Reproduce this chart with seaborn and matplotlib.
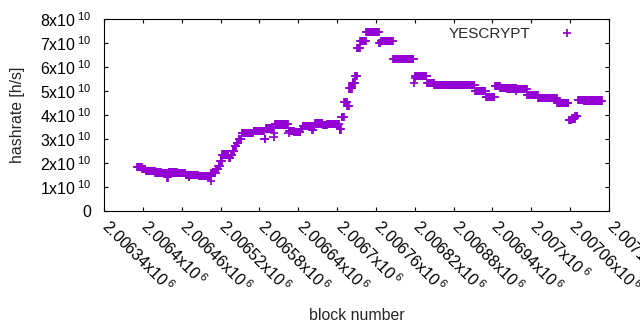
import numpy as np
import pandas as pd
import matplotlib
matplotlib.use("Agg")
import matplotlib.pyplot as plt
import seaborn as sns
from matplotlib.ticker import FixedLocator, FuncFormatter
from matplotlib.transforms import ScaledTranslation

# ---- data (step starts in block numbers, hashrate in 1e10 h/s)
step_start = [2006391, 2006399, 2006405, 2006419, 2006429, 2006438, 2006440, 2006453,
              2006466, 2006471, 2006473, 2006486, 2006505, 2006506, 2006513, 2006517,
              2006520, 2006523, 2006533, 2006536, 2006539, 2006542, 2006545, 2006548,
              2006553, 2006571, 2006588, 2006590, 2006602, 2006603, 2006604, 2006625,
              2006626, 2006634, 2006644, 2006647, 2006662, 2006664, 2006666, 2006678,
              2006685, 2006704, 2006707, 2006711, 2006716, 2006719, 2006724, 2006728,
              2006731, 2006736, 2006745, 2006765, 2006768, 2006787, 2006819, 2006820,
              2006821, 2006839, 2006850, 2006913, 2006930, 2006944, 2006952, 2006963,
              2006977, 2006978, 2006994, 2007011, 2007040, 2007058, 2007063, 2007068,
              2007072, 2007081]
step_value = [1.82, 1.74, 1.67, 1.61, 1.57, 1.40, 1.61, 1.57,
              1.49, 1.44, 1.51, 1.46, 1.26, 1.57, 1.74, 1.87,
              2.10, 2.35, 2.22, 2.35, 2.50, 2.70, 2.85, 2.99,
              3.24, 3.32, 2.99, 3.44, 3.10, 3.26, 3.61, 3.26,
              3.33, 3.28, 3.42, 3.54, 3.38, 3.51, 3.65, 3.58,
              3.62, 3.40, 3.93, 4.55, 4.38, 5.11, 5.35, 5.62,
              6.78, 7.08, 7.45, 6.99, 7.08, 6.32, 5.35, 5.53,
              5.62, 5.32, 5.24, 5.00, 4.74, 5.21, 5.12, 5.10,
              5.00, 5.08, 4.82, 4.70, 4.49, 3.80, 3.86, 3.95,
              4.63, 4.60]
last_block = 2007109
series_name = "YESCRYPT"
x_ticks = list(range(2006340, 2007121, 60))
y_ticks = [0, 1e10, 2e10, 3e10, 4e10, 5e10, 6e10, 7e10, 8e10]

# expand the constant runs into one point per block
starts = np.array(step_start + [last_block + 1])
runs = np.diff(starts)
blocks = np.arange(step_start[0], last_block + 1)
values = np.repeat(np.array(step_value) * 1e10, runs)
df = pd.DataFrame({"block": blocks, "hashrate": values, "series": series_name})

sns.set_theme(style="white")
plt.rcParams["font.family"] = ["Liberation Sans", "DejaVu Sans"]
plt.rcParams["mathtext.fontset"] = "custom"
plt.rcParams["mathtext.rm"] = "Liberation Sans"
plt.rcParams["mathtext.default"] = "regular"

FS = 11.4

fig = plt.figure(figsize=(6.4, 3.3), dpi=100)
ax = fig.add_axes([104 / 640, 1 - 211 / 330, (609 - 104) / 640, (211 - 19) / 330])

sns.scatterplot(data=df, x="block", y="hashrate", hue="series",
                palette=["#9400D3"], marker="+", s=36, linewidth=1.25, ax=ax)

ax.set_xlim(x_ticks[0], x_ticks[-1])
ax.set_ylim(0, 8e10)

ax.xaxis.set_major_locator(FixedLocator(x_ticks))
ax.yaxis.set_major_locator(FixedLocator(y_ticks))


def xfmt(v, pos):
    return f"{v / 1e6:g}x10$\\,^{{6}}$"


def yfmt(v, pos):
    if v == 0:
        return "0"
    return f"{int(round(v / 1e10))}x10$\\,^{{10}}$"


ax.xaxis.set_major_formatter(FuncFormatter(xfmt))
ax.yaxis.set_major_formatter(FuncFormatter(yfmt))

ax.tick_params(axis="both", direction="in", length=3.2, width=0.8, colors="black",
               labelsize=FS, top=True, right=True, bottom=True, left=True)
ax.tick_params(axis="x", pad=4)
ax.tick_params(axis="y", pad=9)

offset = ScaledTranslation(8 / 100, 0, fig.dpi_scale_trans)
for tick in ax.xaxis.get_major_ticks():
    lab = tick.label1
    lab.set_rotation(-45)
    lab.set_ha("left")
    lab.set_va("top")
    lab.set_rotation_mode("anchor")
    lab.set_transform(lab.get_transform() + offset)

for sp in ax.spines.values():
    sp.set_color("black")
    sp.set_linewidth(0.8)
    sp.set_visible(True)

ax.set_xlabel("block number", fontsize=FS, labelpad=9)
ax.set_ylabel("hashrate [h/s]", fontsize=FS, labelpad=11)

ax.legend(loc="upper right", bbox_to_anchor=(0.947, 0.958), frameon=False,
          markerfirst=False, handlelength=2.0, handletextpad=1.4,
          borderaxespad=0, borderpad=0, fontsize=11, title=None)

fig.savefig("out.png", dpi=100)
